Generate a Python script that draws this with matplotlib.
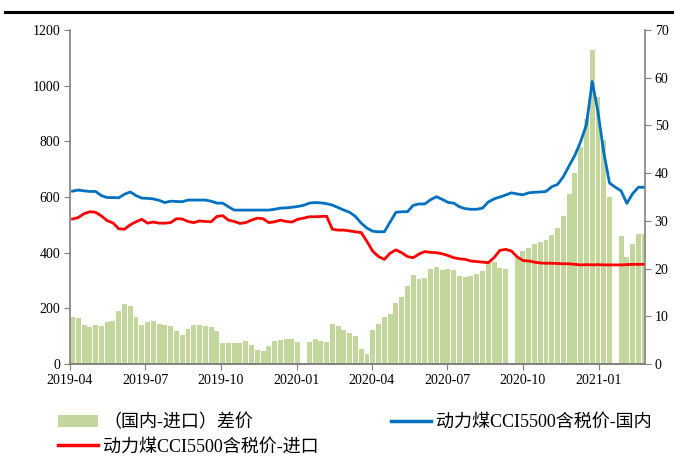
import numpy as np
import pandas as pd
import matplotlib
matplotlib.use("Agg")
import matplotlib.pyplot as plt
import matplotlib.dates as mdates
from matplotlib.lines import Line2D
from matplotlib.patches import Patch

plt.rcParams['font.family'] = ['Liberation Serif', 'Noto Sans CJK SC', 'DejaVu Sans']

# weekly series, 2019-04 .. 2021-02
dates = pd.date_range('2019-04-04', periods=100, freq='7D')

# 动力煤CCI5500含税价-国内
domestic = [621, 625, 622, 620, 620, 605, 598, 598, 597, 610,
            618, 605, 596, 595, 593, 588, 580, 585, 584, 583,
            589, 589, 589, 589, 585, 578, 578, 565, 553, 553,
            553, 553, 553, 553, 553, 556, 560, 561, 563, 566,
            570, 578, 580, 579, 576, 571, 562, 553, 545, 530,
            506, 488, 477, 475, 475, 510, 545, 547, 547, 570,
            575, 575, 590, 601, 592, 581, 578, 565, 558, 556,
            556, 560, 582, 593, 600, 607, 615, 611, 608, 615,
            617, 618, 620, 637, 645, 673, 712, 750, 799, 860,
            1015, 905, 760, 650, 635, 622, 577, 612, 635, 635]

# 动力煤CCI5500含税价-进口
imported = [521, 526, 540, 547, 545, 532, 515, 507, 486, 484,
            500, 511, 520, 506, 510, 506, 506, 508, 522, 521,
            512, 508, 514, 512, 511, 530, 533, 517, 512, 505,
            508, 517, 524, 522, 508, 511, 517, 512, 510, 520,
            524, 529, 529, 530, 531, 484, 481, 481, 478, 475,
            472, 440, 405, 386, 376, 398, 410, 400, 386, 382,
            395, 404, 401, 400, 396, 390, 382, 378, 376, 370,
            368, 366, 364, 382, 408, 412, 406, 385, 372, 370,
            366, 363, 362, 362, 361, 360, 360, 358, 356, 357,
            356, 357, 356, 356, 356, 356, 357, 358, 358, 358]

# （国内-进口）差价
spread = [170, 165, 140, 134, 140, 138, 152, 155, 192, 215,
          210, 170, 140, 150, 155, 143, 140, 135, 118, 104,
          125, 140, 140, 136, 134, 120, 74, 75, 76, 77,
          82, 68, 50, 48, 65, 82, 86, 91, 89, 80,
          np.nan, 80, 89, 82, 80, 143, 135, 122, 112, 100,
          55, 36, 122, 145, 168, 180, 220, 242, 280, 318,
          305, 310, 340, 350, 337, 343, 338, 315, 313, 316,
          322, 335, 365, 365, 344, 340, np.nan, 380, 405, 415,
          430, 437, 445, 465, 487, 530, 610, 685, 780, 880,
          1128, 960, 805, 600, np.nan, 460, 385, 430, 467, 467]

fig = plt.figure(figsize=(6.74, 4.65), dpi=100)
ax = fig.add_axes([0.1039, 0.2172, 0.8531, 0.7183])

ax.bar(dates, spread, width=6.0, color='#c3d69b', linewidth=0, zorder=1)
ax.plot(dates, domestic, color='#0070c0', lw=2.0, zorder=3)
ax.plot(dates, imported, color='#ff0000', lw=2.0, zorder=3)

ax.set_ylim(0, 1200)
ax.set_yticks(range(0, 1201, 200))
ax.set_xlim(pd.Timestamp('2019-04-01'), pd.Timestamp('2021-02-26'))
ax.xaxis.set_major_locator(mdates.MonthLocator(bymonth=[1, 4, 7, 10]))
ax.xaxis.set_major_formatter(mdates.DateFormatter('%Y-%m'))

ax2 = ax.twinx()
ax2.set_ylim(0, 70)
ax2.set_yticks(range(0, 71, 10))

for a in (ax, ax2):
    a.spines['top'].set_visible(False)
    for s in ('left', 'right', 'bottom'):
        a.spines[s].set_color('#808080')
        a.spines[s].set_linewidth(1.2)
    a.tick_params(direction='out', length=4, color='#808080',
                  labelsize=10, labelcolor='black', pad=3)
ax2.spines['left'].set_visible(False)
ax.spines['right'].set_visible(False)

# rule across the top
fig.add_artist(Line2D([0.008, 1.0], [0.975, 0.975], color='black', lw=2.2,
                      transform=fig.transFigure))

# column-first fill: spread / imported in col 1, domestic in col 2
handles = [Patch(facecolor='#c3d69b', edgecolor='none'),
           Line2D([], [], color='#ff0000', lw=2.5),
           Line2D([], [], color='#0070c0', lw=2.5)]
labels = ['（国内-进口）差价', '动力煤CCI5500含税价-进口', '动力煤CCI5500含税价-国内']
fig.legend(handles, labels, loc='upper left', bbox_to_anchor=(0.086, 0.110),
           ncol=2, frameon=False, fontsize=13, columnspacing=4.0,
           handlelength=2.2, handletextpad=0.3, labelspacing=0.4,
           borderaxespad=0, borderpad=0)

fig.savefig('out.png', dpi=100)
